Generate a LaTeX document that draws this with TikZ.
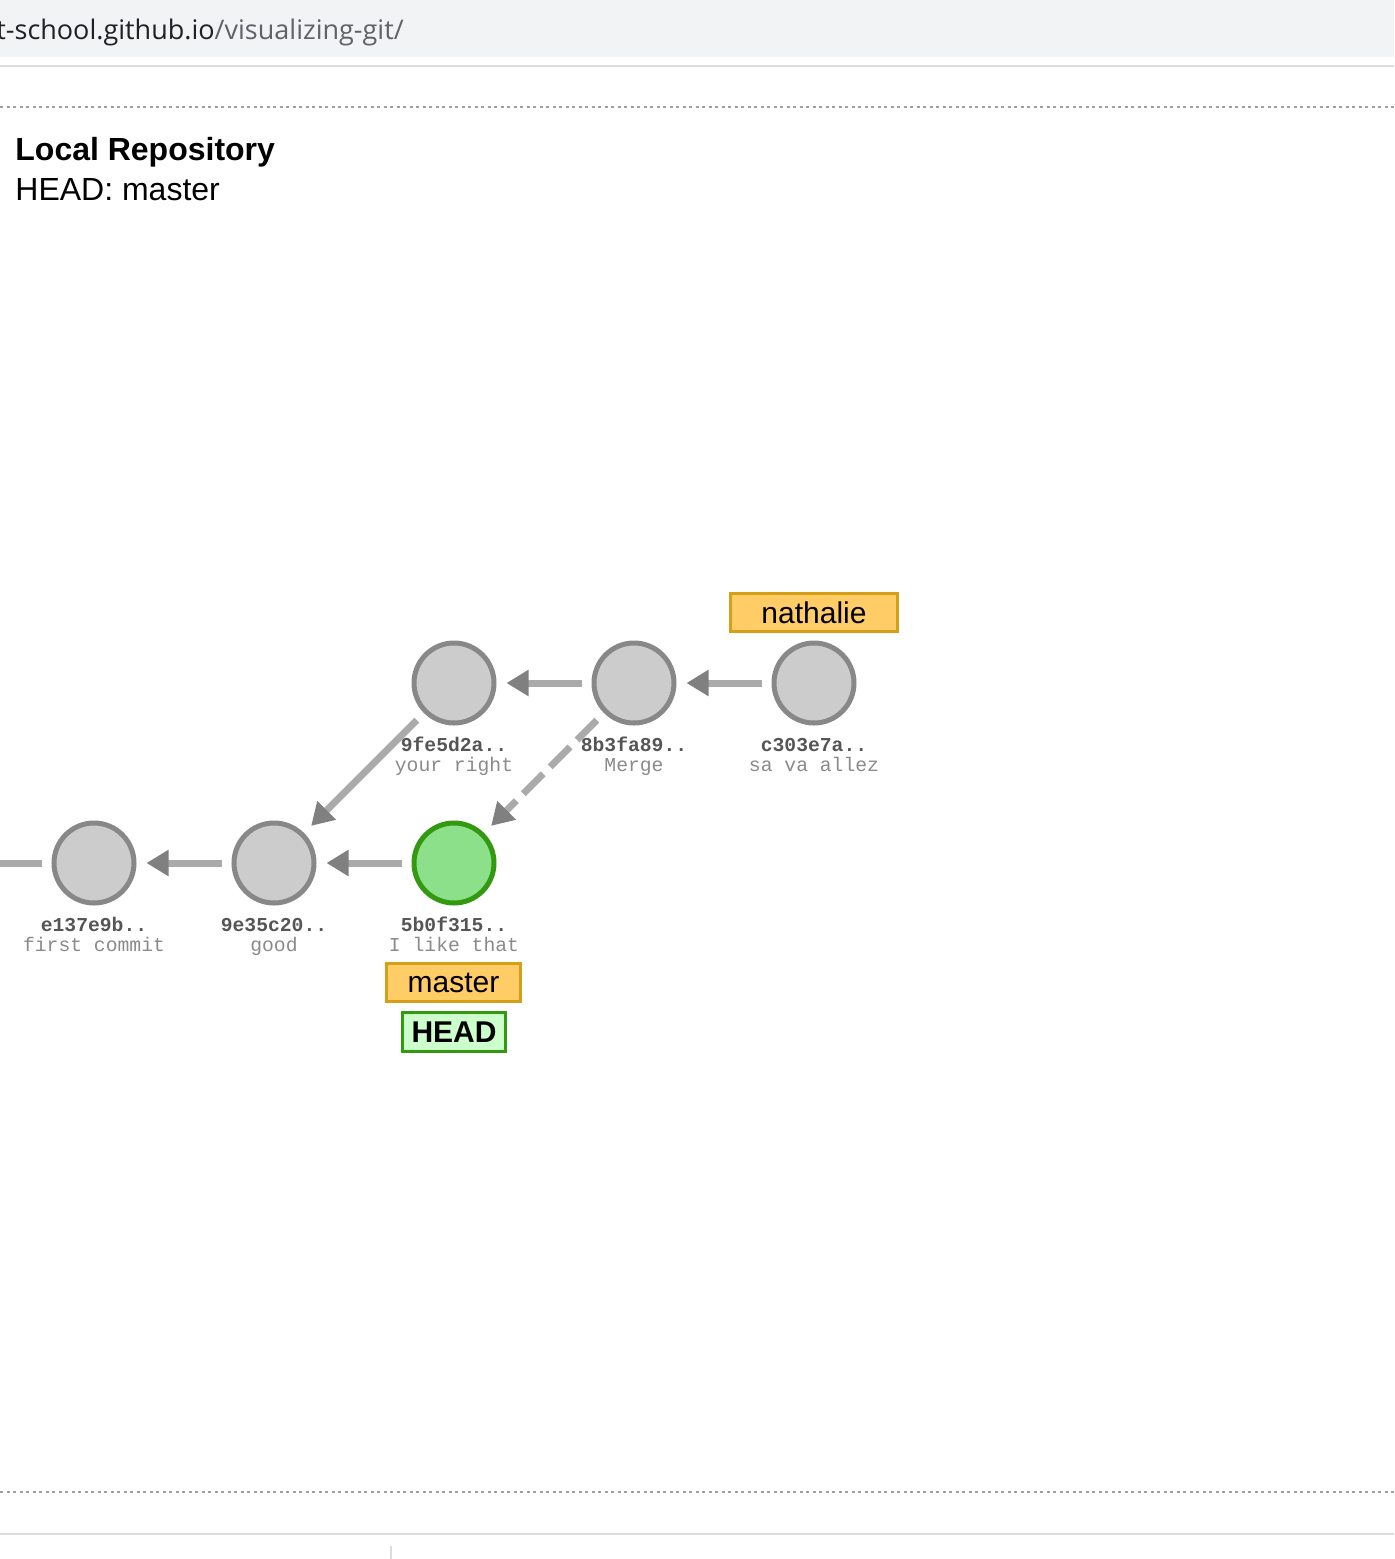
\documentclass[tikz,border=0pt]{standalone}
\usepackage{fontspec}
\setmainfont{Liberation Sans}
\setmonofont{Liberation Mono}
\newfontfamily\urlfont{Open Sans}
\usetikzlibrary{arrows.meta}
\definecolor{barbg}{HTML}{F1F3F4}
\definecolor{barline}{HTML}{DADCE0}
\definecolor{urldark}{HTML}{202124}
\definecolor{urlgray}{HTML}{5F6368}
\definecolor{dotgray}{HTML}{A0A0A0}
\definecolor{commitfill}{HTML}{CCCCCC}
\definecolor{commitline}{HTML}{888888}
\definecolor{headfill}{HTML}{8CE08A}
\definecolor{headline}{HTML}{339911}
\definecolor{linkgray}{HTML}{AAAAAA}
\definecolor{tipgray}{HTML}{808080}
\definecolor{hashgray}{HTML}{555555}
\definecolor{msggray}{HTML}{8A8A8A}
\definecolor{branchfill}{HTML}{FFCC66}
\definecolor{branchline}{HTML}{D4A017}
\definecolor{headreffill}{HTML}{CCFFCC}
\begin{document}
\begin{tikzpicture}[x=0.5pt,y=-0.5pt,
    commit/.style={circle,draw=commitline,fill=commitfill,line width=2.5pt,
      minimum size=40pt,inner sep=0pt},
    current/.style={commit,draw=headline,fill=headfill},
    link/.style={draw=linkgray,line width=3.5pt,shorten <=5pt,shorten >=5pt,
      -{Triangle[length=11pt,width=12.5pt,color=tipgray]}},
    hash/.style={anchor=base,inner sep=0pt,text=hashgray,
      font=\fontsize{9.85}{11}\selectfont\ttfamily\bfseries},
    msg/.style={anchor=base,inner sep=0pt,text=msggray,
      font=\fontsize{9.85}{11}\selectfont\ttfamily},
    branch/.style={draw=branchline,fill=branchfill,line width=1.5pt,
      minimum height=19pt,inner sep=0pt,font=\fontsize{15}{18}\selectfont},
    headref/.style={branch,draw=headline,fill=headreffill,
      font=\fontsize{15}{18}\selectfont\bfseries}]
  \useasboundingbox (0,0) rectangle (1394,1559);
  % browser frame
  \fill[barbg] (0,0) rectangle (1394,57);
  \draw[barline,line width=1pt] (0,66) -- (1394,66);
  \node[anchor=base west,inner sep=0pt,font=\fontsize{13.5}{16}\selectfont\urlfont]
    (url) at (-4,39) {\textcolor{urldark}{t-school.github.io}\textcolor{urlgray}{/visualizing-git/}};
  \draw[dotgray,line width=1pt,dash pattern=on 1.5pt off 1.75pt] (0,107) -- (1394,107);
  \draw[dotgray,line width=1pt,dash pattern=on 1.5pt off 1.75pt] (0,1492) -- (1394,1492);
  \draw[barline,line width=1pt] (0,1534) -- (1394,1534);
  \draw[barline,line width=0.8pt] (391,1546) -- (391,1559);
  % title
  \node[anchor=base west,inner sep=0pt,font=\fontsize{16}{19}\selectfont\bfseries]
    (title) at (15,160) {Local Repository};
  \node[anchor=base west,inner sep=0pt,font=\fontsize{16}{19}\selectfont]
    (headinfo) at (15,200) {HEAD: master};
  % commits
  \draw
    (454,683) node[commit] (c9fe){}
    (634,683) node[commit] (c8b3){}
    (814,683) node[commit] (cc30){}
    (94,863) node[commit] (ce13){}
    (274,863) node[commit] (c9e3){}
    (454,863) node[current] (c5b0){};
  \foreach \name/\hash/\msg in {c9fe/9fe5d2a/your right, c8b3/8b3fa89/Merge,
      cc30/c303e7a/sa va allez, ce13/e137e9b/first commit, c9e3/9e35c20/good,
      c5b0/5b0f315/I like that}{
    \node[hash] (h-\name) at ([yshift=-34pt]\name.center) {\hash..};
    \node[msg] (m-\name) at ([yshift=-44pt]\name.center) {\msg};
  }
  % parents
  \coordinate (offleft) at (0,863);
  \begin{scope}[link]
    \draw (cc30) -- (c8b3);
    \draw (c8b3) -- (c9fe);
    \draw (c9fe) -- (c9e3);
    \draw[dash pattern=on 14pt off 5pt] (c8b3) -- (c5b0);
    \draw (c5b0) -- (c9e3);
    \draw (c9e3) -- (ce13);
    \draw[-,shorten >=0pt] (ce13) -- (offleft);
  \end{scope}
  % refs
  \node[branch,minimum width=83.5pt] (nathalie) at (814,612.5) {nathalie};
  \node[branch,minimum width=67pt] (master) at (453.5,982.5) {master};
  \node[headref,minimum width=51.5pt,minimum height=19.5pt] (head) at (454,1032) {HEAD};
\end{tikzpicture}
\end{document}
